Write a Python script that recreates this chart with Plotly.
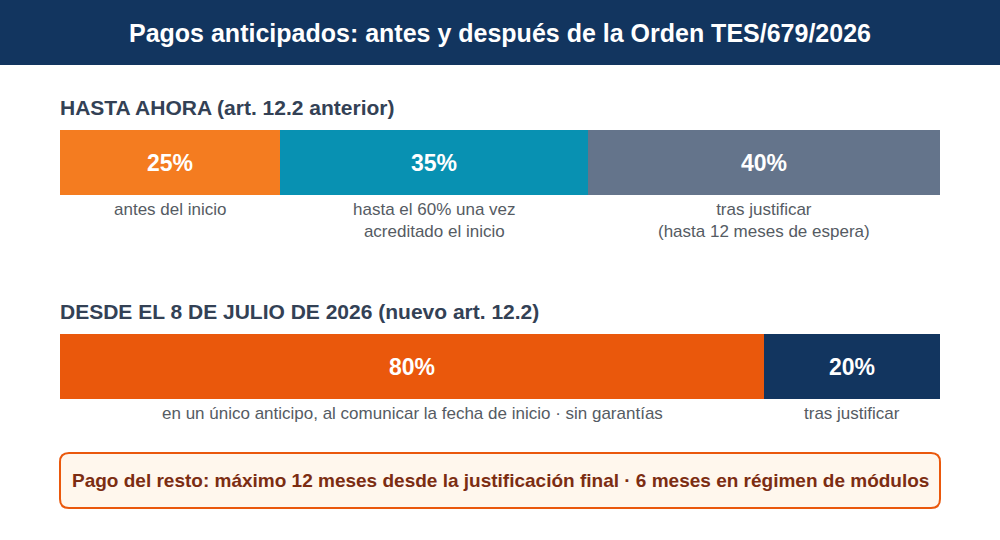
import plotly.graph_objects as go

# ---- data ----
rows = ["HASTA AHORA (art. 12.2 anterior)", "DESDE EL 8 DE JULIO DE 2026 (nuevo art. 12.2)"]
before_vals = [25, 35, 40]
before_labels = ["antes del inicio", "hasta el 60% una vez<br>acreditado el inicio", "tras justificar<br>(hasta 12 meses de espera)"]
after_vals = [80, 20]
after_labels = ["en un único anticipo, al comunicar la fecha de inicio · sin garantías", "tras justificar"]
title = "Pagos anticipados: antes y después de la Orden TES/679/2026"
note = "Pago del resto: máximo 12 meses desde la justificación final · 6 meses en régimen de módulos"

# ---- styles ----
before_colors = ["#F47C20", "#0891B2", "#64748B"]
after_colors = ["#EA580C", "#12355F"]
FONT = "Liberation Sans, Arial, sans-serif"
row_center = [162.5, 366.5]   # layout positions (pixel-like units)
bar_h = 65

fig = go.Figure()

def add_row(vals, colors, labels, yc, heading):
    base = 0
    for v, c, lab in zip(vals, colors, labels):
        fig.add_trace(go.Bar(
            x=[v], y=[yc], base=[base], orientation="h", width=bar_h,
            marker=dict(color=c, line=dict(width=0)),
            text=[f"<b>{v}%</b>"], textposition="inside", insidetextanchor="middle",
            textfont=dict(family=FONT, size=23, color="white"),
            hoverinfo="skip", showlegend=False,
        ))
        fig.add_annotation(x=base + v / 2, y=yc + bar_h / 2 + 3, text=lab,
                           xref="x", yref="y", showarrow=False, yanchor="top",
                           font=dict(family=FONT, size=17, color="#555b63"),
                           align="center")
        base += v
    fig.add_annotation(x=0, y=yc - bar_h / 2 - 9, text=f"<b>{heading}</b>",
                       xref="x", yref="y", showarrow=False, xanchor="left", yanchor="bottom",
                       xshift=-2,
                       font=dict(family=FONT, size=21, color="#334155"))

add_row(before_vals, before_colors, before_labels, row_center[0], rows[0])
add_row(after_vals, after_colors, after_labels, row_center[1], rows[1])

# header band
fig.add_shape(type="rect", xref="paper", yref="paper", x0=0, x1=1, y0=1 - 65 / 540, y1=1,
              fillcolor="#12355F", line=dict(width=0), layer="below")
fig.add_annotation(xref="paper", yref="paper", x=0.5, y=1 - 33 / 540, text=f"<b>{title}</b>",
                   showarrow=False, xanchor="center", yanchor="middle",
                   font=dict(family=FONT, size=25, color="white"))

# note box (rounded)
x0, x1, y0, y1, r = 60, 940, 453, 508, 9
def px(x): return x / 1000
def py(y): return 1 - y / 540
path = (f"M {px(x0 + r)},{py(y0)} L {px(x1 - r)},{py(y0)} "
        f"Q {px(x1)},{py(y0)} {px(x1)},{py(y0 + r)} L {px(x1)},{py(y1 - r)} "
        f"Q {px(x1)},{py(y1)} {px(x1 - r)},{py(y1)} L {px(x0 + r)},{py(y1)} "
        f"Q {px(x0)},{py(y1)} {px(x0)},{py(y1 - r)} L {px(x0)},{py(y0 + r)} "
        f"Q {px(x0)},{py(y0)} {px(x0 + r)},{py(y0)} Z")
fig.add_shape(type="path", xref="paper", yref="paper", path=path,
              fillcolor="#FFF7ED", line=dict(color="#EA580C", width=2))
fig.add_annotation(xref="paper", yref="paper", x=0.5, y=py((y0 + y1) / 2), text=f"<b>{note}</b>",
                   showarrow=False, xanchor="center", yanchor="middle",
                   font=dict(family=FONT, size=19, color="#7C2D12"))

fig.update_layout(
    width=1000, height=540, margin=dict(l=0, r=0, t=0, b=0),
    paper_bgcolor="white", plot_bgcolor="white",
    barmode="overlay", uniformtext=dict(mode=False),
    xaxis=dict(domain=[0.06, 0.94], range=[0, 100], visible=False, fixedrange=True),
    yaxis=dict(domain=[0, 1], range=[540, 0], visible=False, fixedrange=True),
)
fig.write_html("out.html", config={"displayModeBar": False})
